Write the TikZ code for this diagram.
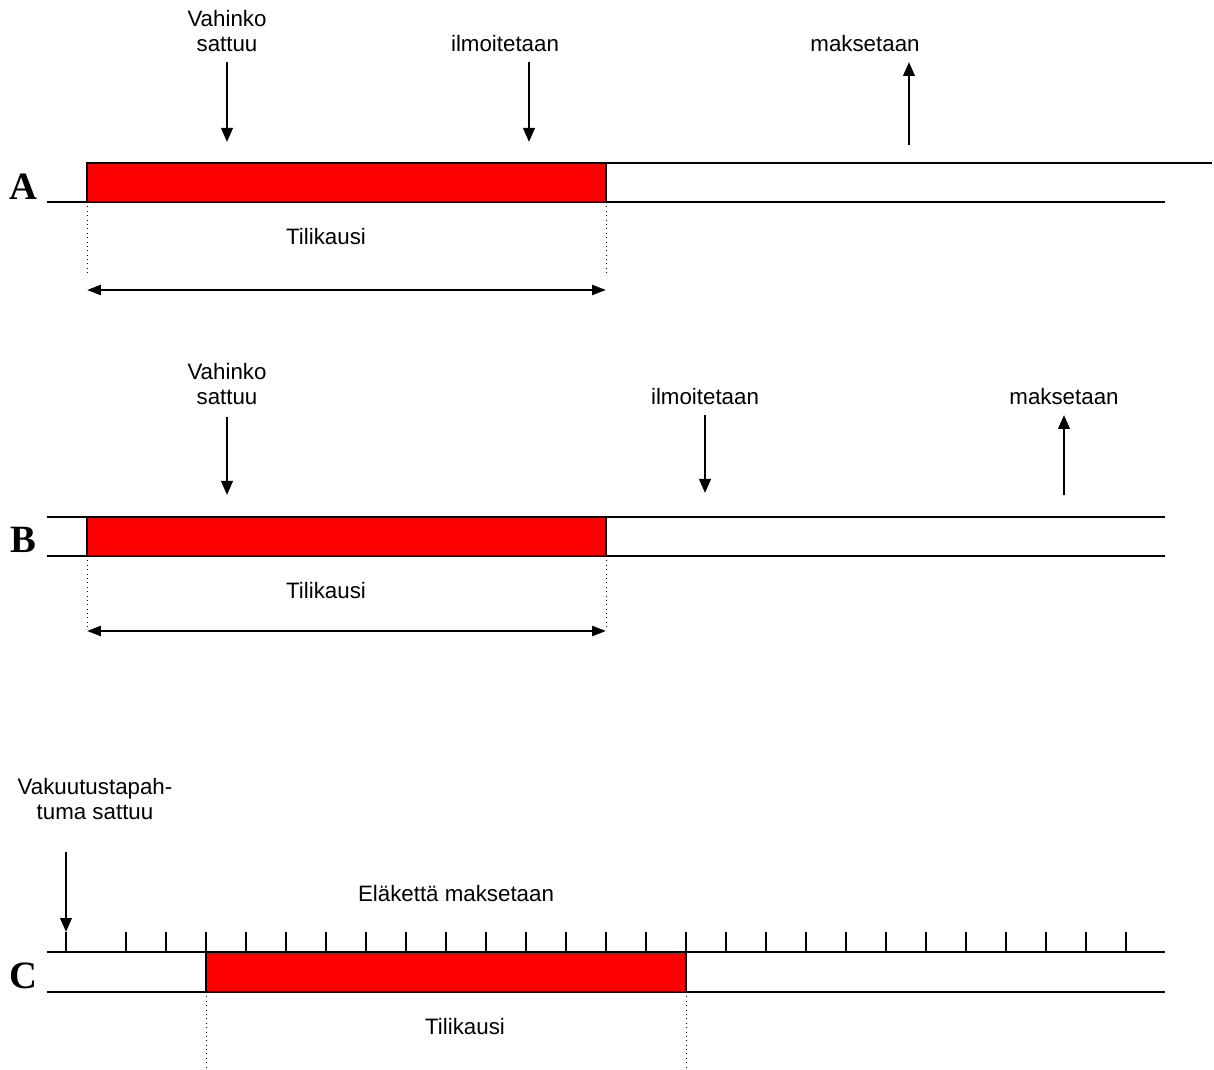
\documentclass[tikz,border=0pt]{standalone}
\usepackage{fontspec}
\setmainfont{Liberation Sans}
\newfontfamily\rowfont{Liberation Serif}
\usetikzlibrary{arrows.meta}

\tikzset{
  txt/.style={font=\fontsize{12.7}{14.2}\selectfont, inner sep=0pt, align=center},
  rowlabel/.style={font=\rowfont\bfseries\fontsize{22}{22}\selectfont, inner sep=0pt, anchor=base},
  period/.style={draw=black, line width=1pt, fill=red},
  axis/.style={line width=1pt},
  event/.style={line width=1.3pt, -{Triangle[length=2.8mm,width=2.3mm]}},
  span/.style={line width=1.4pt, {Triangle[length=2.8mm,width=2mm]}-{Triangle[length=2.8mm,width=2mm]}},
  edge/.style={dotted, line width=0.5pt},
  tickmark/.style={line width=0.9pt}
}

\begin{document}
\begin{tikzpicture}[x=0.02cm,y=-0.02cm]
   \useasboundingbox (0,0) rectangle (1214,1070);

   % A
   \node[rowlabel] (labA) at (23,200) {A};
   \draw[axis] (47,202) -- (87,202);
   \draw[period] (87,163) rectangle (606,202);
   \draw[axis] (606,163) -- (1212,163);
   \draw[axis] (606,202) -- (1165,202);
   \coordinate (a0) at (87,202);
   \coordinate (a1) at (606,202);
   \draw[edge] (a0) -- ++(0,73);
   \draw[edge] (a1) -- ++(0,73);
   \node[txt, anchor=base] (tilA) at (326,245) {Tilikausi};
   \draw[span] (87,290) -- (606,290);

   \node[txt, anchor=south] (vahA) at (227,52) {Vahinko\\sattuu};
   \node[txt, anchor=base] (ilmA) at (505,52) {ilmoitetaan};
   \node[txt, anchor=base] (makA) at (865,52) {maksetaan};
   \coordinate (vahAs) at (227,62);  \coordinate (vahAe) at (227,142);
   \coordinate (ilmAs) at (529,62);  \coordinate (ilmAe) at (529,142);
   \coordinate (makAs) at (909,145); \coordinate (makAe) at (909,62);
   \draw[event] (vahAs) -- (vahAe);
   \draw[event] (ilmAs) -- (ilmAe);
   \draw[event] (makAs) -- (makAe);

   % B
   \node[rowlabel] (labB) at (23,553) {B};
   \draw[axis] (47,517) -- (1165,517);
   \draw[axis] (47,556) -- (1165,556);
   \draw[period] (87,517) rectangle (606,556);
   \coordinate (b0) at (87,556);
   \coordinate (b1) at (606,556);
   \draw[edge] (b0) -- ++(0,74);
   \draw[edge] (b1) -- ++(0,74);
   \node[txt, anchor=base] (tilB) at (326,599) {Tilikausi};
   \draw[span] (87,631) -- (606,631);

   \node[txt, anchor=south] (vahB) at (227,405) {Vahinko\\sattuu};
   \node[txt, anchor=base] (ilmB) at (705,405) {ilmoitetaan};
   \node[txt, anchor=base] (makB) at (1064,405) {maksetaan};
   \coordinate (vahBs) at (227,417);  \coordinate (vahBe) at (227,495);
   \coordinate (ilmBs) at (705,415);  \coordinate (ilmBe) at (705,493);
   \coordinate (makBs) at (1064,495); \coordinate (makBe) at (1064,415);
   \draw[event] (vahBs) -- (vahBe);
   \draw[event] (ilmBs) -- (ilmBe);
   \draw[event] (makBs) -- (makBe);

   % C
   \node[rowlabel] (labC) at (23,988) {C};
   \draw[axis] (47,952) -- (1165,952);
   \draw[axis] (47,992) -- (1165,992);
   \draw[period] (206,952) rectangle (686,992);
   \foreach \x in {126,166,...,1126}
     \draw[tickmark] (\x,932) -- (\x,952);
   \draw[tickmark] (66,932) -- (66,952);
   \coordinate (c0) at (206,992);
   \coordinate (c1) at (686,992);
   \draw[edge] (c0) -- ++(0,78);
   \draw[edge] (c1) -- ++(0,78);
   \node[txt, anchor=base] (tilC) at (465,1034) {Tilikausi};
   \node[txt, anchor=base] (elaC) at (456,901) {Eläkettä maksetaan};

   \node[txt, anchor=south] (vakC) at (95,820) {Vakuutustapah-\\tuma sattuu};
   \coordinate (vakCs) at (66,852); \coordinate (vakCe) at (66,932);
   \draw[event] (vakCs) -- (vakCe);
\end{tikzpicture}
\end{document}
